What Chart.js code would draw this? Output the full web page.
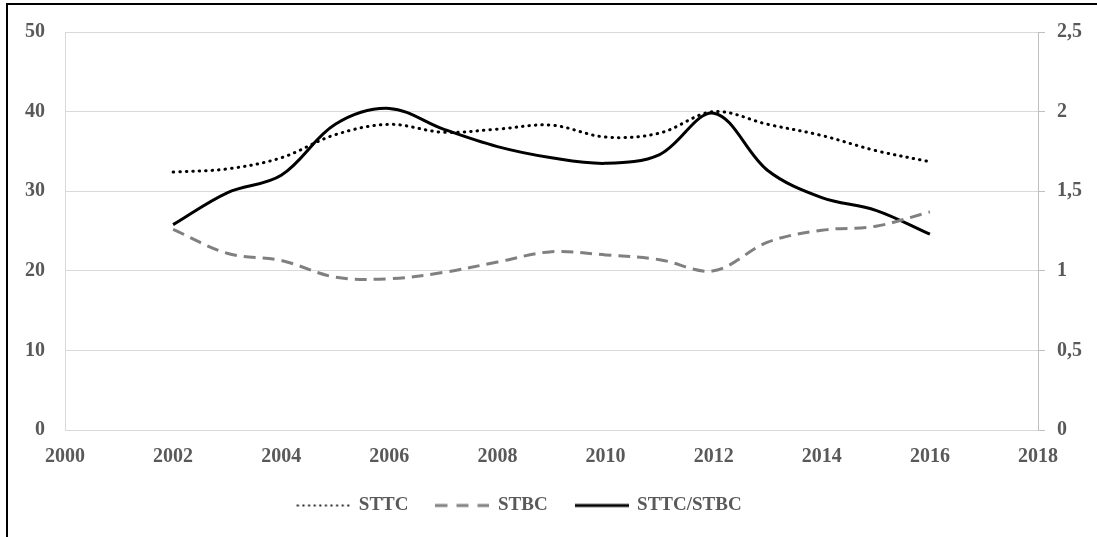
<!DOCTYPE html>
<html>
<head>
<meta charset="utf-8">
<script src="https://cdn.jsdelivr.net/npm/chart.js@4.4.1/dist/chart.umd.min.js"></script>
<style>
  html, body { margin: 0; padding: 0; background: #fff; overflow: hidden; }
  #wrap { position: relative; width: 1097px; height: 537px; }
  #frame { position: absolute; left: 6px; top: 3px; width: 1200px; height: 600px;
           border-left: 2px solid #000; border-top: 2px solid #000; pointer-events: none; }
</style>
</head>
<body>
<div id="wrap">
  <canvas id="c"></canvas>
  <div id="frame"></div>
</div>
<script>
const years = [2002, 2003, 2004, 2005, 2006, 2007, 2008, 2009, 2010, 2011, 2012, 2013, 2014, 2015, 2016];
const sttc  = [32.4, 32.8, 34.2, 37.1, 38.4, 37.4, 37.8, 38.3, 36.8, 37.3, 40.0, 38.4, 37.0, 35.1, 33.7];
const stbc  = [25.2, 22.2, 21.3, 19.2, 19.0, 19.8, 21.1, 22.4, 22.0, 21.4, 20.0, 23.6, 25.1, 25.6, 27.4];
const ratio = [1.29, 1.49, 1.60, 1.92, 2.02, 1.89, 1.78, 1.71, 1.675, 1.73, 1.99, 1.63, 1.46, 1.38, 1.23];
const seriesNames = ['STTC', 'STBC', 'STTC/STBC'];
const xMin = 2000, xMax = 2018, xStep = 2;
const leftMax = 50, leftStep = 10;
const rightMax = 2.5, rightStep = 0.5;

const pts = arr => years.map((y, i) => ({ x: y, y: arr[i] }));
const textColor = '#595959';
const gridColor = '#d9d9d9';
const font = { family: "'Liberation Serif', 'Times New Roman', serif", weight: 'bold', size: 20 };

// legend line samples
function sample(color, dash, width, cap) {
  const cv = document.createElement('canvas');
  cv.width = 54; cv.height = 6;
  const g = cv.getContext('2d');
  g.strokeStyle = color; g.lineWidth = width; g.lineCap = cap || 'butt';
  g.setLineDash(dash);
  g.beginPath(); g.moveTo(cap === 'round' ? 1.5 : 0, 3); g.lineTo(54, 3); g.stroke();
  return cv;
}
const sampleDot = sample('#000', [0.1, 5.5], 2.2, 'round');
const sampleDash = sample('#808080', [12, 9], 3);
const sampleSolid = sample('#000', [], 3);

const shiftLegend = {
  id: 'shiftLegend',
  beforeDraw(chart) {
    if (!chart.legend._shifted) {
      chart.legend.left -= 29; chart.legend.right -= 29; chart.legend._shifted = true;
    }
  }
};

new Chart(document.getElementById('c'), {
  type: 'line',
  data: {
    datasets: [
      { label: seriesNames[0], data: pts(sttc), yAxisID: 'y', borderColor: '#000', borderWidth: 3,
        borderDash: [0.5, 6], borderCapStyle: 'round', pointRadius: 0, pointStyle: sampleDot,
        tension: 0.35, fill: false },
      { label: seriesNames[1], data: pts(stbc), yAxisID: 'y', borderColor: '#808080', borderWidth: 3,
        borderDash: [12, 7], pointRadius: 0, pointStyle: sampleDash, tension: 0.35, fill: false },
      { label: seriesNames[2], data: pts(ratio), yAxisID: 'y1', borderColor: '#000', borderWidth: 3,
        pointRadius: 0, pointStyle: sampleSolid, tension: 0.35, fill: false }
    ]
  },
  options: {
    responsive: true,
    maintainAspectRatio: false,
    animation: false,
    layout: { padding: { top: 31, left: 0, right: 0, bottom: 12 } },
    plugins: {
      tooltip: { enabled: false },
      legend: {
        position: 'bottom',
        labels: {
          usePointStyle: true, pointStyleWidth: 52,
          color: textColor, padding: 28,
          font: { family: font.family, weight: 'bold', size: 19 }
        }
      }
    },
    scales: {
      x: {
        type: 'linear', min: xMin, max: xMax,
        afterFit: s => { s.height = 38; },
        ticks: { stepSize: xStep, color: textColor, font: font, padding: 15, maxRotation: 0,
                 callback: v => String(v) },
        grid: { display: false, drawTicks: false },
        border: { display: true, color: gridColor, width: 1 }
      },
      y: {
        position: 'left', min: 0, max: leftMax,
        afterFit: s => { s.width = 65; },
        ticks: { stepSize: leftStep, color: textColor, font: font, padding: 20 },
        grid: { color: gridColor, drawTicks: false },
        border: { display: true, color: gridColor, width: 1 }
      },
      y1: {
        position: 'right', min: 0, max: rightMax,
        afterFit: s => { s.width = 59; },
        ticks: { stepSize: rightStep, color: textColor, font: font, padding: 12,
                 callback: v => String(v).replace('.', ',') },
        grid: { drawOnChartArea: false, drawTicks: true, tickLength: 7, color: '#bfbfbf' },
        border: { display: true, color: '#bfbfbf', width: 1 }
      }
    }
  },
  plugins: [shiftLegend]
});
</script>
</body>
</html>
